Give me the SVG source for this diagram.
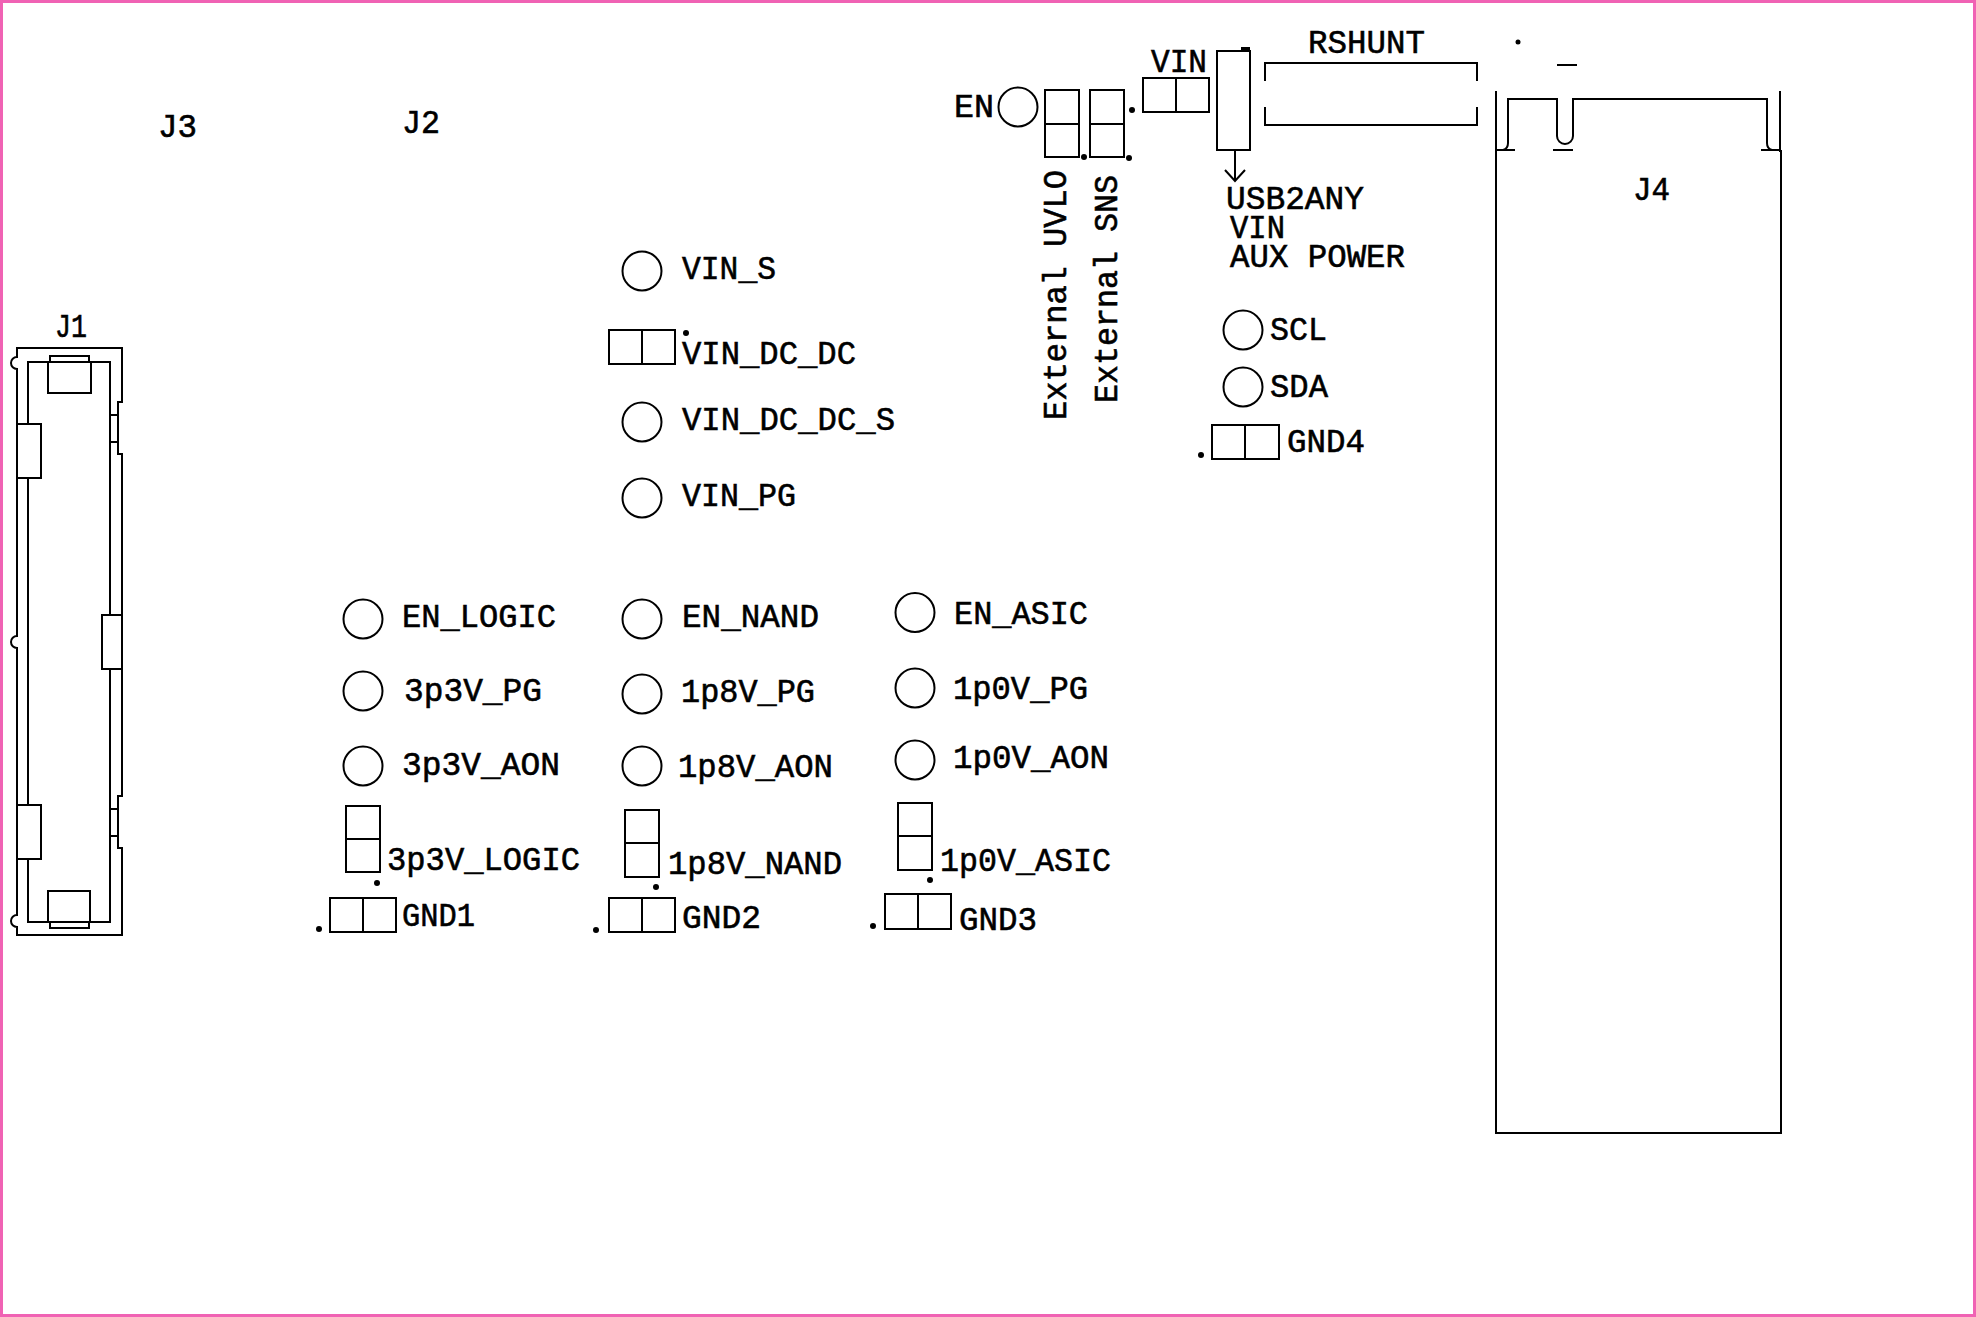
<svg xmlns="http://www.w3.org/2000/svg" width="1976" height="1317" viewBox="0 0 1976 1317">
<style>
.s{fill:none;stroke:#000;stroke-width:2}
.d{fill:#000;stroke:none}
text{font-family:"Liberation Mono","DejaVu Sans Mono",monospace;font-size:33px;fill:#000;stroke:#000;stroke-width:.6}
</style>
<rect x="0" y="0" width="1976" height="1317" fill="#fff"/>
<rect id="border" x="1.5" y="1.5" width="1973" height="1314" fill="none" stroke="#f062b4" stroke-width="3"/>
<g id="J1">
<path class="s" d="M17 357V348H122V402H118V454H122V796H118V848H122V935H17V927A6 6 0 0 1 17 915V648A6 6 0 0 1 17 636V369A6 6 0 0 1 17 357Z"/>
<path class="s" d="M48 362H28V424M28 478V805M28 859V922H48M90 922H110V669M110 615V362H91"/>
<rect class="s" x="48" y="362" width="43" height="31"/>
<rect class="s" x="50" y="356" width="39" height="6"/>
<rect class="s" x="17" y="424" width="24" height="54"/>
<rect class="s" x="17" y="805" width="24" height="54"/>
<rect class="s" x="102" y="615" width="20" height="54"/>
<rect class="s" x="48" y="891" width="42" height="31"/>
<rect class="s" x="50" y="922" width="39" height="6"/>
<path class="s" d="M110 415H118M110 442H118M110 809H118M110 836H118M122 858V885"/>
<text x="55" y="337" textLength="32" lengthAdjust="spacingAndGlyphs">J1</text>
</g>
<g id="J2"><text x="402" y="133" textLength="38" lengthAdjust="spacingAndGlyphs">J2</text></g>
<g id="J3"><text x="158" y="137" textLength="39" lengthAdjust="spacingAndGlyphs">J3</text></g>
<g id="J4">
<path class="s" d="M1496 91V1133H1781V151H1780V91"/>
<path class="s" d="M1496 150H1515M1553 150H1573M1761 150H1781M1557 65H1577"/>
<path class="s" d="M1503 150Q1508 149 1508 143V99H1557V136A8 8 0 0 0 1573 136V99H1767V143Q1767 149 1772 150"/>
<circle class="d" cx="1518" cy="42" r="2.5"/>
<text x="1633" y="200" textLength="37" lengthAdjust="spacingAndGlyphs">J4</text>
</g>
<g id="RSHUNT">
<path class="s" d="M1265 81V63H1477V81M1265 107V125H1477V107"/>
<text x="1308" y="53" textLength="117" lengthAdjust="spacingAndGlyphs">RSHUNT</text>
</g>
<g id="USB2ANY">
<rect class="s" x="1217" y="51" width="33" height="99"/>
<rect class="d" x="1241" y="47" width="9" height="5"/>
<text x="1226" y="209" textLength="138" lengthAdjust="spacingAndGlyphs">USB2ANY</text>
<text x="1230" y="238" textLength="55" lengthAdjust="spacingAndGlyphs">VIN</text>
<text x="1230" y="267" textLength="175" lengthAdjust="spacingAndGlyphs">AUX POWER</text>
</g>
<g id="connectors">
<path class="s" d="M1235 150V181M1225 170L1235 181L1245 170"/>
</g>
<g id="VIN"><rect class="s" x="1143" y="78" width="66" height="34"/><path class="s" d="M1176 78V112"/><circle class="d" cx="1132" cy="110" r="3"/>
<text x="1151" y="72" textLength="56" lengthAdjust="spacingAndGlyphs">VIN</text></g>
<g id="EN"><circle class="s" cx="1018" cy="107" r="19.5"/><text x="954" y="117" textLength="40" lengthAdjust="spacingAndGlyphs">EN</text></g>
<g id="UVLO"><rect class="s" x="1045" y="90" width="34" height="67"/><path class="s" d="M1045 124H1079"/><circle class="d" cx="1084" cy="157" r="3"/>
<text transform="translate(1066 420) rotate(-90)" textLength="250" lengthAdjust="spacingAndGlyphs">External UVLO</text></g>
<g id="SNS"><rect class="s" x="1090" y="90" width="34" height="67"/><path class="s" d="M1090 124H1124"/><circle class="d" cx="1129" cy="158" r="3"/>
<text transform="translate(1117 403) rotate(-90)" textLength="228" lengthAdjust="spacingAndGlyphs">External SNS</text></g>
<g id="VIN_S"><circle class="s" cx="642" cy="271" r="19.5"/><text x="682" y="279" textLength="94" lengthAdjust="spacingAndGlyphs">VIN_S</text></g>
<g id="VIN_DC_DC"><rect class="s" x="609" y="330" width="66" height="34"/><path class="s" d="M642 330V364"/><circle class="d" cx="686" cy="333" r="3"/><text x="682" y="364" textLength="174" lengthAdjust="spacingAndGlyphs">VIN_DC_DC</text></g>
<g id="VIN_DC_DC_S"><circle class="s" cx="642" cy="422" r="19.5"/><text x="682" y="430" textLength="213" lengthAdjust="spacingAndGlyphs">VIN_DC_DC_S</text></g>
<g id="VIN_PG"><circle class="s" cx="642" cy="498" r="19.5"/><text x="682" y="506" textLength="114" lengthAdjust="spacingAndGlyphs">VIN_PG</text></g>
<g id="SCL"><circle class="s" cx="1243" cy="330" r="19.5"/><text x="1270" y="340" textLength="57" lengthAdjust="spacingAndGlyphs">SCL</text></g>
<g id="SDA"><circle class="s" cx="1243" cy="387" r="19.5"/><text x="1270" y="397" textLength="58" lengthAdjust="spacingAndGlyphs">SDA</text></g>
<g id="GND4"><rect class="s" x="1212" y="425" width="67" height="34"/><path class="s" d="M1245 425V459"/><circle class="d" cx="1201" cy="455" r="3"/><text x="1287" y="452" textLength="78" lengthAdjust="spacingAndGlyphs">GND4</text></g>
<g id="EN_LOGIC"><circle class="s" cx="363" cy="619" r="19.5"/><text x="402" y="627" textLength="154" lengthAdjust="spacingAndGlyphs">EN_LOGIC</text></g>
<g id="P3p3V_PG"><circle class="s" cx="363" cy="691" r="19.5"/><text x="404" y="701" textLength="138" lengthAdjust="spacingAndGlyphs">3p3V_PG</text></g>
<g id="P3p3V_AON"><circle class="s" cx="363" cy="766" r="19.5"/><text x="402" y="775" textLength="158" lengthAdjust="spacingAndGlyphs">3p3V_AON</text></g>
<g id="P3p3V_LOGIC"><rect class="s" x="346" y="806" width="34" height="66"/><path class="s" d="M346 839H380"/><circle class="d" cx="377" cy="883" r="3"/><text x="387" y="870" textLength="193" lengthAdjust="spacingAndGlyphs">3p3V_LOGIC</text></g>
<g id="GND1"><rect class="s" x="330" y="898" width="66" height="34"/><path class="s" d="M363 898V932"/><circle class="d" cx="319" cy="929" r="3"/><text x="402" y="926" textLength="73" lengthAdjust="spacingAndGlyphs">GND1</text></g>
<g id="EN_NAND"><circle class="s" cx="642" cy="619" r="19.5"/><text x="682" y="627" textLength="137" lengthAdjust="spacingAndGlyphs">EN_NAND</text></g>
<g id="P1p8V_PG"><circle class="s" cx="642" cy="694" r="19.5"/><text x="681" y="702" textLength="134" lengthAdjust="spacingAndGlyphs">1p8V_PG</text></g>
<g id="P1p8V_AON"><circle class="s" cx="642" cy="766" r="19.5"/><text x="678" y="777" textLength="155" lengthAdjust="spacingAndGlyphs">1p8V_AON</text></g>
<g id="P1p8V_NAND"><rect class="s" x="625" y="810" width="34" height="67"/><path class="s" d="M625 843H659"/><circle class="d" cx="656" cy="887" r="3"/><text x="668" y="874" textLength="174" lengthAdjust="spacingAndGlyphs">1p8V_NAND</text></g>
<g id="GND2"><rect class="s" x="609" y="898" width="66" height="34"/><path class="s" d="M642 898V932"/><circle class="d" cx="596" cy="930" r="3"/><text x="682" y="928" textLength="79" lengthAdjust="spacingAndGlyphs">GND2</text></g>
<g id="EN_ASIC"><circle class="s" cx="915" cy="612.5" r="19.5"/><text x="954" y="624" textLength="134" lengthAdjust="spacingAndGlyphs">EN_ASIC</text></g>
<g id="P1p0V_PG"><circle class="s" cx="915" cy="688" r="19.5"/><text x="953" y="699" textLength="135" lengthAdjust="spacingAndGlyphs">1p0V_PG</text></g>
<g id="P1p0V_AON"><circle class="s" cx="915" cy="760" r="19.5"/><text x="953" y="768" textLength="156" lengthAdjust="spacingAndGlyphs">1p0V_AON</text></g>
<g id="P1p0V_ASIC"><rect class="s" x="898" y="803" width="34" height="67"/><path class="s" d="M898 836H932"/><circle class="d" cx="930" cy="880" r="3"/><text x="940" y="871" textLength="171" lengthAdjust="spacingAndGlyphs">1p0V_ASIC</text></g>
<g id="GND3"><rect class="s" x="885" y="894" width="66" height="35"/><path class="s" d="M918 894V929"/><circle class="d" cx="873" cy="926" r="3"/><text x="959" y="930" textLength="78" lengthAdjust="spacingAndGlyphs">GND3</text></g>
</svg>
